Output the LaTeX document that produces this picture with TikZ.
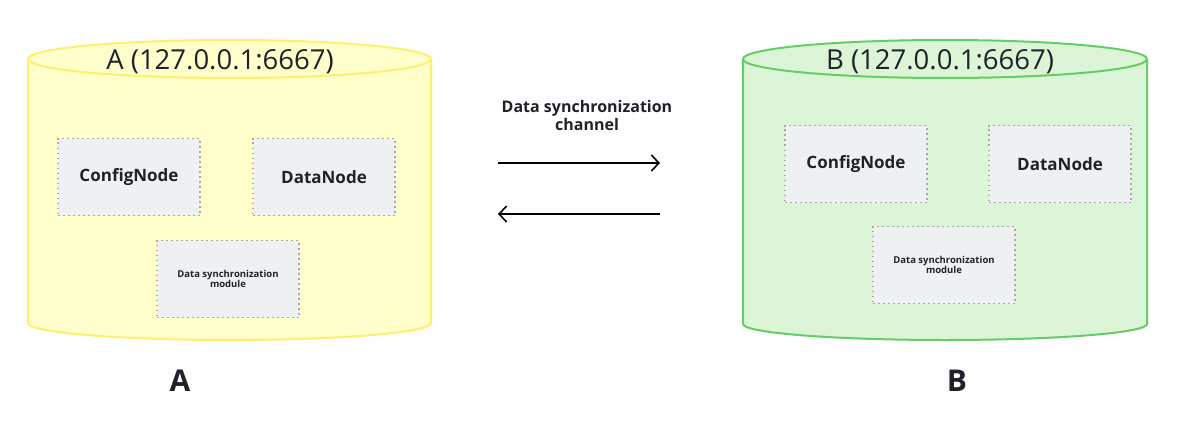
\documentclass[tikz,border=0pt]{standalone}
\usepackage{fontspec}
\setmainfont{Open Sans}
\usetikzlibrary{arrows.meta}
\definecolor{yfill}{HTML}{FFFFCC}
\definecolor{ydraw}{HTML}{FFEF6E}
\definecolor{gfill}{HTML}{DCF5D6}
\definecolor{gdraw}{HTML}{66CC66}
\definecolor{boxfill}{HTML}{EEF0F2}
\definecolor{boxdraw}{HTML}{A8A8B2}
\definecolor{txt}{HTML}{1F2329}
\tikzset{
  compbox/.style={fill=boxfill, draw=boxdraw, line width=1.8pt, dash pattern=on 1.8pt off 3.2pt,
    minimum width=142pt, minimum height=77pt, inner sep=0pt, text=txt,
    font=\bfseries\fontsize{17}{19}\selectfont, align=center},
  syncbox/.style={compbox, font=\bfseries\fontsize{9.5}{10.5}\selectfont},
  title/.style={text=txt, font=\fontsize{27.5}{30}\selectfont, inner sep=0pt},
  biglabel/.style={text=txt, font=\bfseries\fontsize{30}{34}\selectfont, inner sep=0pt},
  chan/.style={line width=1.6pt, draw=black, -{Straight Barb[length=7.5pt,width=16pt,line width=1.6pt]}},
  chanlabel/.style={text=txt, font=\bfseries\fontsize{16}{18}\selectfont, align=center, inner sep=0pt}
}
\begin{document}
\begin{tikzpicture}[x=1pt,y=-1pt]
\useasboundingbox[fill=white] (0,0) rectangle (1180,428);
% Cylinder A
\fill[yfill] (28,59) -- (28,323) arc[start angle=180,end angle=0,x radius=201.5,y radius=17] -- (431,59) arc[start angle=0,end angle=-180,x radius=201.5,y radius=19] -- cycle;
\draw[ydraw, line width=2pt] (28,59) -- (28,323) arc[start angle=180,end angle=0,x radius=201.5,y radius=17] -- (431,59);
\draw[ydraw, line width=2pt] (229.5,59) ellipse[x radius=201.5,y radius=19];
% Cylinder B
\fill[gfill] (743,59) -- (743,324) arc[start angle=180,end angle=0,x radius=202,y radius=16] -- (1147,59) arc[start angle=0,end angle=-180,x radius=202,y radius=19] -- cycle;
\draw[gdraw, line width=2pt] (743,59) -- (743,324) arc[start angle=180,end angle=0,x radius=202,y radius=16] -- (1147,59);
\draw[gdraw, line width=2pt] (945,59) ellipse[x radius=202,y radius=19];
% Titles
\node[title] (titleA) at (220,62) {A (127.0.0.1:6667)};
\node[title] (titleB) at (940,62) {B (127.0.0.1:6667)};
% Boxes A
\node[compbox] (cfgA) at (129,177) {ConfigNode};
\node[compbox] (dnA) at (324,177) {DataNode};
\node[syncbox] (syncA) at (228,279) {Data synchronization\\module};
% Boxes B
\node[compbox] (cfgB) at (856,164) {ConfigNode};
\node[compbox] (dnB) at (1060,164) {DataNode};
\node[syncbox] (syncB) at (944,265) {Data synchronization\\module};
% Labels
\node[biglabel] (labA) at (180,381) {A};
\node[biglabel] (labB) at (957,381) {B};
% Channel
\node[chanlabel] (chl) at (587,115) {Data synchronization\\channel};
\coordinate (r1) at (498,163);
\coordinate (r2) at (660,163);
\coordinate (l1) at (660,214);
\coordinate (l2) at (498,214);
\draw[chan] (r1) -- (r2);
\draw[chan] (l1) -- (l2);
\end{tikzpicture}
\end{document}
